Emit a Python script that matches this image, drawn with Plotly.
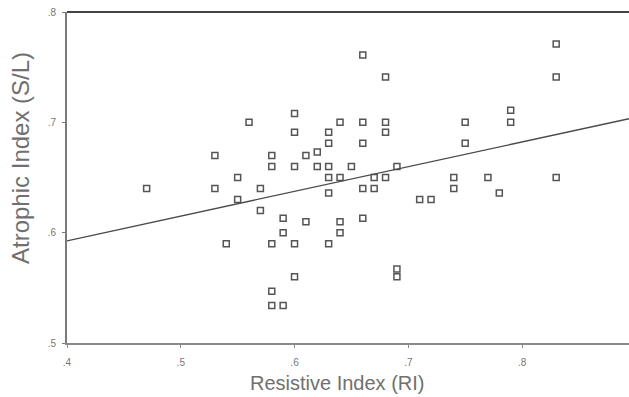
import plotly.graph_objects as go

# Data: Resistive Index (RI) vs Atrophic Index (S/L)
resistive_index = [
    0.47, 0.53, 0.53, 0.54, 0.55, 0.55, 0.56, 0.57, 0.57, 0.58,
    0.58, 0.58, 0.58, 0.58, 0.59, 0.59, 0.59, 0.60, 0.60, 0.60,
    0.60, 0.60, 0.61, 0.62, 0.61, 0.62, 0.63, 0.63, 0.63, 0.63,
    0.63, 0.63, 0.64, 0.64, 0.64, 0.64, 0.65, 0.66, 0.66, 0.66,
    0.66, 0.66, 0.67, 0.67, 0.68, 0.68, 0.68, 0.68, 0.69, 0.69,
    0.69, 0.71, 0.72, 0.74, 0.74, 0.75, 0.75, 0.77, 0.78, 0.79,
    0.79, 0.83, 0.83, 0.83,
]
atrophic_index = [
    0.64, 0.67, 0.64, 0.59, 0.65, 0.63, 0.70, 0.64, 0.62, 0.67,
    0.66, 0.59, 0.547, 0.534, 0.534, 0.613, 0.60, 0.708, 0.691, 0.66,
    0.59, 0.56, 0.67, 0.673, 0.61, 0.66, 0.66, 0.691, 0.681, 0.65,
    0.636, 0.59, 0.70, 0.65, 0.61, 0.60, 0.66, 0.761, 0.70, 0.681,
    0.64, 0.613, 0.65, 0.64, 0.741, 0.70, 0.691, 0.65, 0.66, 0.567,
    0.56, 0.63, 0.63, 0.65, 0.64, 0.70, 0.681, 0.65, 0.636, 0.711,
    0.70, 0.771, 0.741, 0.65,
]

# Fitted line
fit_intercept = 0.503
fit_slope = 0.224

x_ticks = [0.4, 0.5, 0.6, 0.7, 0.8]
x_tick_labels = [".4", ".5", ".6", ".7", ".8"]
y_ticks = [0.5, 0.6, 0.7, 0.8]
y_tick_labels = [".5", ".6", ".7", ".8"]

x_range = [0.4, 0.894]
y_range = [0.5, 0.8]

fit_x = list(x_range)
fit_y = [fit_intercept + fit_slope * v for v in fit_x]

fig = go.Figure()
fig.add_trace(go.Scatter(
    x=resistive_index, y=atrophic_index, mode="markers",
    marker=dict(symbol="square-open", size=6, color="#555555",
                line=dict(width=1.5, color="#555555")),
    hoverinfo="x+y", showlegend=False,
))
fig.add_trace(go.Scatter(
    x=fit_x, y=fit_y, mode="lines",
    line=dict(color="#4a4a4a", width=1.3), showlegend=False,
))

font_family = "Liberation Sans, Arial, sans-serif"
axis_font = dict(family=font_family, size=10, color="#777777")
fig.update_layout(
    width=629, height=397,
    margin=dict(l=67, r=0, t=12, b=54),
    paper_bgcolor="white", plot_bgcolor="white",
    xaxis=dict(range=x_range, tickvals=x_ticks, ticktext=x_tick_labels,
               showgrid=False, zeroline=False, showline=True,
               linecolor="#8a8a8a", linewidth=2, ticks="outside",
               ticklen=3, tickcolor="#8a8a8a", tickfont=axis_font,
               ticklabelstandoff=6),
    yaxis=dict(range=y_range, tickvals=y_ticks, ticktext=y_tick_labels,
               showgrid=False, zeroline=False, showline=True,
               linecolor="#7a7a7a", linewidth=2, ticks="outside",
               ticklen=3, tickcolor="#7a7a7a", tickfont=axis_font,
               ticklabelstandoff=4),
    shapes=[dict(type="line", xref="paper", yref="paper", x0=0, x1=1,
                 y0=1, y1=1, line=dict(color="#444444", width=2))],
    annotations=[
        dict(text="Resistive Index (RI)", xref="paper", yref="paper",
             x=0.482, y=-0.122, xanchor="center", yanchor="middle",
             showarrow=False,
             font=dict(family=font_family, size=20, color="#707070")),
        dict(text="Atrophic Index (S/L)", xref="paper", yref="paper",
             x=-0.083, y=0.56, xanchor="center", yanchor="middle",
             textangle=-90, showarrow=False,
             font=dict(family=font_family, size=24, color="#707070")),
    ],
)

fig.write_html("out.html", config={"displayModeBar": False},
               post_script="document.body.style.margin='0';")
